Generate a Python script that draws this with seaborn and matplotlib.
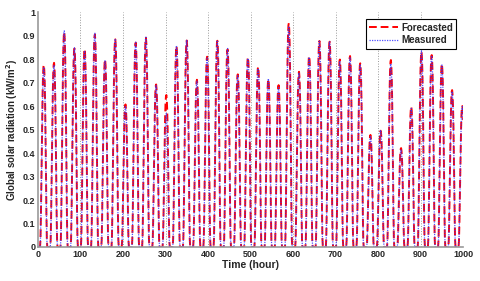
import numpy as np
import pandas as pd
import matplotlib
matplotlib.use("Agg")
import matplotlib.pyplot as plt
import seaborn as sns

# daily peak radiation (kW/m2), one value per day
forecast_peaks = [0.775, 0.784, 0.915, 0.845, 0.843, 0.905, 0.798, 0.884, 0.607, 0.870,
                  0.891, 0.692, 0.647, 0.855, 0.879, 0.712, 0.810, 0.878, 0.841, 0.735,
                  0.807, 0.767, 0.714, 0.689, 0.953, 0.746, 0.813, 0.877, 0.874, 0.798,
                  0.813, 0.782, 0.477, 0.495, 0.796, 0.421, 0.597, 0.831, 0.817, 0.779,
                  0.668, 0.600]
measured_peaks = [0.765, 0.775, 0.920, 0.848, 0.835, 0.910, 0.795, 0.886, 0.600, 0.872,
                  0.893, 0.688, 0.569, 0.858, 0.882, 0.706, 0.805, 0.880, 0.845, 0.730,
                  0.803, 0.760, 0.716, 0.680, 0.940, 0.742, 0.808, 0.880, 0.876, 0.792,
                  0.808, 0.778, 0.470, 0.498, 0.780, 0.415, 0.590, 0.835, 0.815, 0.775,
                  0.662, 0.598]
# shape of one day (fraction of the daily peak, hour 0..23)
day_profile = [0, 0, 0, 0, 0, 0, 0.04, 0.16, 0.34, 0.53, 0.70, 0.84,
               0.94, 0.99, 1.0, 0.97, 0.90, 0.78, 0.61, 0.40, 0.18, 0.04, 0, 0]

hours = np.arange(1, 1001)
prof = np.array(day_profile)[hours % 24]
df = pd.DataFrame({
    "hour": hours,
    "Forecasted": np.array(forecast_peaks)[hours // 24] * prof,
    "Measured": np.array(measured_peaks)[hours // 24] * prof,
})

sns.set_style("white")
plt.rcParams["font.family"] = ["Liberation Sans", "DejaVu Sans"]
plt.rcParams["font.weight"] = "bold"

fig = plt.figure(figsize=(4.8, 2.81), dpi=100)
ax = fig.add_axes([0.079, 0.121, 0.886, 0.836])

sns.lineplot(data=df, x="hour", y="Forecasted", ax=ax, color="red",
             linestyle=(0, (4, 2)), linewidth=1.4, label="Forecasted")
sns.lineplot(data=df, x="hour", y="Measured", ax=ax, color="#3333ff",
             linestyle=(0, (1, 1)), linewidth=0.9, label="Measured", alpha=0.85)

ax.set_xlim(0, 1000)
ax.set_ylim(0, 1)
ax.set_xticks(range(0, 1001, 100))
ax.set_yticks(np.arange(0, 1.01, 0.1))
ax.set_yticklabels(["%g" % round(v, 1) for v in np.arange(0, 1.01, 0.1)])
for x in range(100, 1001, 100):
    ax.axvline(x, color="#999999", linestyle=":", linewidth=0.7, zorder=0)

ax.tick_params(direction="in", length=2.5, width=0.6, labelsize=6.5, color="#777777", pad=2)
for lab in ax.get_xticklabels() + ax.get_yticklabels():
    lab.set_fontweight("bold")
for s in ["top", "right"]:
    ax.spines[s].set_visible(False)
for s in ["left", "bottom"]:
    ax.spines[s].set_color("#999999")
    ax.spines[s].set_linewidth(1.2)

ax.set_xlabel("Time (hour)", fontsize=7.5, fontweight="bold", labelpad=1)
ax.set_ylabel("Global solar radiation (kW/m$^\\mathbf{2}$)", fontsize=7, fontweight="bold", labelpad=2)

leg = ax.legend(loc="upper right", bbox_to_anchor=(0.995, 0.99), fontsize=7,
                frameon=True, fancybox=False, framealpha=1, edgecolor="black",
                handlelength=3.0, borderpad=0.35, labelspacing=0.25, handletextpad=0.3)
leg.get_frame().set_linewidth(0.8)
for t in leg.get_texts():
    t.set_fontweight("bold")

fig.savefig("out.png", dpi=100)
